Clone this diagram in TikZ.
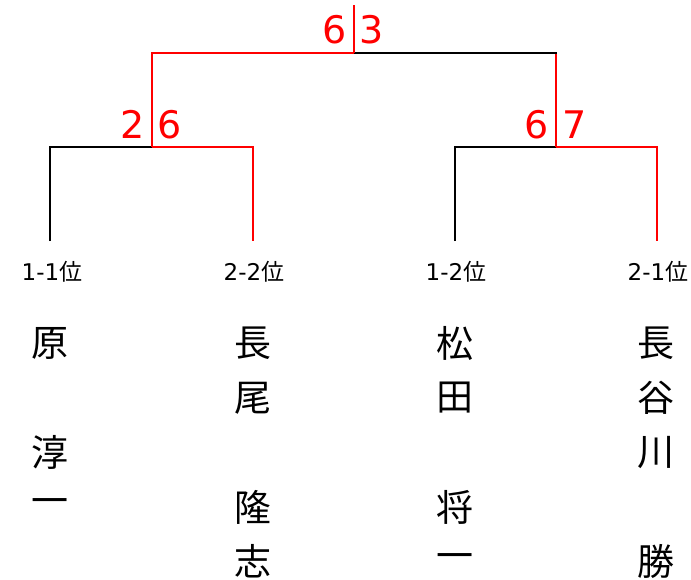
\documentclass[tikz,border=0pt]{standalone}
\usepackage{fontspec}
\newfontfamily\jpfont{Noto Sans CJK JP}
\newfontfamily\scorefont{DejaVu Sans}
\definecolor{winred}{RGB}{255,0,0}
\tikzset{
  lose/.style={draw=black, line width=2pt, line join=miter},
  win/.style={draw=winred, line width=2pt, line join=miter},
  seedlbl/.style={inner sep=0pt, font=\scorefont\fontsize{23}{23}\selectfont},
  namechar/.style={inner sep=0pt, font=\jpfont\fontsize{37}{37}\selectfont},
  scoreL/.style={inner sep=0pt, anchor=base east, text=winred, font=\scorefont\fontsize{38}{38}\selectfont},
  scoreR/.style={inner sep=0pt, anchor=base west, text=winred, font=\scorefont\fontsize{38}{38}\selectfont},
}
\begin{document}
\begin{tikzpicture}[x=1pt,y=-1pt]
\useasboundingbox (0,0) rectangle (691,579);

% seed labels
\node[seedlbl] (s1) at (52,272) {1-1{\jpfont 位}};
\node[seedlbl] (s2) at (254,272) {2-2{\jpfont 位}};
\node[seedlbl] (s3) at (456,272) {1-2{\jpfont 位}};
\node[seedlbl] (s4) at (658,272) {2-1{\jpfont 位}};

% leaf line ends
\coordinate (p1) at (50,241);
\coordinate (p2) at (253,241);
\coordinate (p3) at (455,241);
\coordinate (p4) at (657,241);
% junctions
\coordinate (j1) at (151.5,147);
\coordinate (j2) at (556,147);
\coordinate (f) at (353.75,53);
\coordinate (ftop) at (353.75,5);

% bracket lines
\draw[lose] (p1) |- (j1);
\draw[win] (j1) -| (p2);
\draw[lose] (p3) |- (j2);
\draw[win] (j2) -| (p4);
\draw[win] (j2) -- (j2 |- f);
\draw[lose] (f) -- ([xshift=1pt]f -| j2);
\draw[win] (j1) |- (f);
\draw[win] (f) -- (ftop);

% scores
\node[scoreL] (sc1a) at ([xshift=-7pt]353.75,43) {6};
\node[scoreR] (sc1b) at ([xshift=6pt]353.75,43) {3};
\node[scoreL] (sc2a) at ([xshift=-7pt]151.5,138) {2};
\node[scoreR] (sc2b) at ([xshift=6pt]151.5,138) {6};
\node[scoreL] (sc3a) at ([xshift=-7pt]556,138) {6};
\node[scoreR] (sc3b) at ([xshift=6pt]556,138) {7};

% names (vertical)
\node[namechar] (a1) at (50,343.5) {原};
\node[namechar] (a3) at (50,452.5) {淳};
\node[namechar] (a4) at (50,507) {一};

\node[namechar] (b1) at (253,343.5) {長};
\node[namechar] (b2) at (253,398) {尾};
\node[namechar] (b4) at (253,507) {隆};
\node[namechar] (b5) at (253,561.5) {志};

\node[namechar] (c1) at (455,343.5) {松};
\node[namechar] (c2) at (455,398) {田};
\node[namechar] (c4) at (455,507) {将};
\node[namechar] (c5) at (455,561.5) {一};

\node[namechar] (d1) at (656,343.5) {長};
\node[namechar] (d2) at (656,398) {谷};
\node[namechar] (d3) at (656,452.5) {川};
\node[namechar] (d5) at (656,561.5) {勝};
\end{tikzpicture}
\end{document}
